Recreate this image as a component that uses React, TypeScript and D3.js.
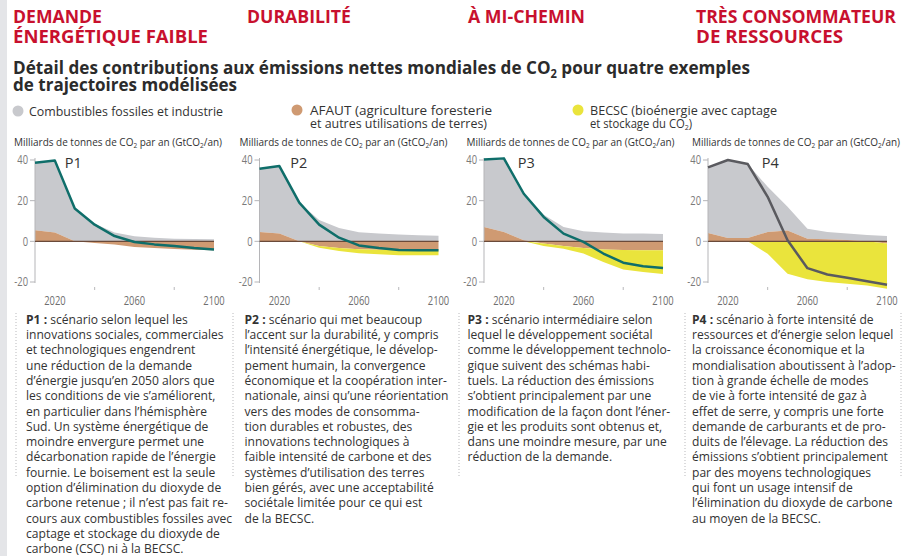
import React from 'react';
import * as d3 from 'd3';

// ---------- DATA ----------
const YEARS = [2010, 2020, 2030, 2040, 2050, 2060, 2070, 2080, 2090, 2100];

const P1_FOSSIL = [33.3, 35.4, 16.1, 8.7, 4.3, 2.5, 1.8, 1.3, 1.1, 1.0];
const P1_AFOLU = [5.4, 4.3, 0, -0.8, -1.6, -2.8, -3.3, -3.8, -4.1, -4.4];
const P1_BECCS = [0, 0, 0, 0, 0, 0, 0, 0, 0, 0];
const P1_NET = [38.7, 39.7, 16.1, 8.2, 2.6, -0.3, -1.5, -2.3, -3.3, -4.0];

const P2_FOSSIL = [31.1, 33.2, 19.0, 10.5, 6.5, 4.5, 3.8, 3.3, 3.0, 2.8];
const P2_AFOLU = [4.6, 3.8, 0, -2.3, -3.3, -3.9, -4.1, -4.2, -4.2, -4.2];
const P2_BECCS = [0, 0, 0, -0.8, -1.4, -2.0, -2.3, -2.6, -2.7, -2.7];
const P2_NET = [35.7, 37.0, 19.0, 8.2, 1.8, -2.0, -3.3, -4.3, -4.4, -4.4];

const P3_FOSSIL = [33.2, 36.2, 22.9, 13.1, 7.0, 4.9, 4.3, 3.9, 3.8, 3.6];
const P3_AFOLU = [7.0, 4.6, 0.5, -1.1, -2.3, -3.3, -4.0, -4.3, -4.4, -4.4];
const P3_BECCS = [0, 0, 0, -1.2, -1.3, -2.7, -6.2, -9.5, -10.7, -11.7];
const P3_NET = [40.2, 40.8, 23.4, 12.0, 3.8, -0.3, -6.0, -10.5, -12.3, -13.1];

const P4_FOSSIL = [32.3, 38.4, 36.4, 22.2, 11.7, 4.9, 3.6, 3.1, 3.1, 2.6];
const P4_AFOLU = [4.1, 1.6, 1.6, 4.6, 5.3, 1.3, 1.0, 0.7, 0.0, -1.1];
const P4_BECCS = [0, 0, 0, -6.1, -16.0, -18.7, -20.0, -20.8, -21.7, -22.2];
const P4_NET = [36.4, 40.0, 38.0, 21.9, 0.5, -13.2, -16.3, -17.9, -19.6, -21.4];

const Y_TICKS = [40, 20, 0, -20];
const X_LABELS = [2020, 2060, 2100];
const X_MINOR = [2040, 2080];

const HEADERS = [
  ['DEMANDE', 'ÉNERGÉTIQUE FAIBLE'],
  ['DURABILITÉ'],
  ['À MI-CHEMIN'],
  ['TRÈS CONSOMMATEUR', 'DE RESSOURCES'],
];
const SCENARIO_NAMES = ['P1', 'P2', 'P3', 'P4'];

const P1_TEXT = [
  'scénario selon lequel les',
  'innovations sociales, commerciales',
  'et technologiques engendrent',
  'une réduction de la demande',
  'd’énergie jusqu’en 2050 alors que',
  'les conditions de vie s’améliorent,',
  'en particulier dans l’hémisphère',
  'Sud. Un système énergétique de',
  'moindre envergure permet une',
  'décarbonation rapide de l’énergie',
  'fournie. Le boisement est la seule',
  'option d’élimination du dioxyde de',
  'carbone retenue ; il n’est pas fait re-',
  'cours aux combustibles fossiles avec',
  'captage et stockage du dioxyde de',
  'carbone (CSC) ni à la BECSC.',
];
const P2_TEXT = [
  'scénario qui met beaucoup',
  'l’accent sur la durabilité, y compris',
  'l’intensité énergétique, le dévelop-',
  'pement humain, la convergence',
  'économique et la coopération inter-',
  'nationale, ainsi qu’une réorientation',
  'vers des modes de consomma-',
  'tion durables et robustes, des',
  'innovations technologiques à',
  'faible intensité de carbone et des',
  'systèmes d’utilisation des terres',
  'bien gérés, avec une acceptabilité',
  'sociétale limitée pour ce qui est',
  'de la BECSC.',
];
const P3_TEXT = [
  'scénario intermédiaire selon',
  'lequel le développement sociétal',
  'comme le développement technolo-',
  'gique suivent des schémas habi-',
  'tuels. La réduction des émissions',
  's’obtient principalement par une',
  'modification de la façon dont l’éner-',
  'gie et les produits sont obtenus et,',
  'dans une moindre mesure, par une',
  'réduction de la demande.',
];
const P4_TEXT = [
  'scénario à forte intensité de',
  'ressources et d’énergie selon lequel',
  'la croissance économique et la',
  'mondialisation aboutissent à l’adop-',
  'tion à grande échelle de modes',
  'de vie à forte intensité de gaz à',
  'effet de serre, y compris une forte',
  'demande de carburants et de pro-',
  'duits de l’élevage. La réduction des',
  'émissions s’obtient principalement',
  'par des moyens technologiques',
  'qui font un usage intensif de',
  'l’élimination du dioxyde de carbone',
  'au moyen de la BECSC.',
];

const SCENARIOS = [
  { fossil: P1_FOSSIL, afolu: P1_AFOLU, beccs: P1_BECCS, net: P1_NET, text: P1_TEXT },
  { fossil: P2_FOSSIL, afolu: P2_AFOLU, beccs: P2_BECCS, net: P2_NET, text: P2_TEXT },
  { fossil: P3_FOSSIL, afolu: P3_AFOLU, beccs: P3_BECCS, net: P3_NET, text: P3_TEXT },
  { fossil: P4_FOSSIL, afolu: P4_AFOLU, beccs: P4_BECCS, net: P4_NET, text: P4_TEXT },
];

// ---------- LAYOUT / STYLE ----------
const W = 908;
const H = 556;
const FONT = '"Open Sans", "Noto Sans", sans-serif';
const RED = '#c8102e';
const DARK = '#333333';
const GREY_FILL = '#c8c9cd';
const ORANGE = '#cf9a72';
const YELLOW = '#eae43c';
const LINE_COLORS = ['#0f6e6a', '#0f6e6a', '#0f6e6a', '#5a5a5f'];
const PANEL_AXIS_X = [35, 259.5, 484, 708];
const PANEL_TITLE_X = [14, 239.5, 466.5, 692];
const HEADER_X = [13, 247, 468, 696];
const HEADER_LEN = [[89, 195], [104], [117], [200, 147]];
const LABEL_YEAR = [2025, 2025.5, 2027, 2037];
const TEXT_X = [26, 244.5, 467.5, 692];
const SEP_X = [16, 233, 459, 685, 901];
const PLOT_W = 179;
const Y_TOP = 160;
const Y_BOT = 282;
const TEXT_SX = 0.93;
const LEG_SX = 0.9;

function Panel({ i }: { i: number }) {
  const s = SCENARIOS[i];
  const ax = PANEL_AXIS_X[i];
  const x = d3.scaleLinear().domain([2010, 2100]).range([ax, ax + PLOT_W]);
  const y = d3.scaleLinear().domain([-20, 40]).range([Y_BOT, Y_TOP]);
  const rows = YEARS.map((yr, k) => {
    const a = s.afolu[k];
    const ap = Math.max(a, 0);
    const an = Math.min(a, 0);
    return { yr, a, ap, an, f: s.fossil[k], b: s.beccs[k], n: s.net[k] };
  });
  const grey = d3.area<any>().x(d => x(d.yr)).y0(d => y(d.ap)).y1(d => y(d.ap + d.f))(rows);
  const orange = d3.area<any>().x(d => x(d.yr)).y0(() => y(0)).y1(d => y(d.a))(rows);
  const yellow = d3.area<any>().x(d => x(d.yr)).y0(d => y(d.an)).y1(d => y(d.an + d.b))(rows);
  const line = d3.line<any>().x(d => x(d.yr)).y(d => y(d.n))(rows);

  return (
    <g>
      <text
        x={PANEL_TITLE_X[i]}
        y={145.5}
        fontFamily={FONT}
        fontSize={11.5}
        fill={DARK}
        textLength={208}
        lengthAdjust="spacingAndGlyphs"
      >
        Milliards de tonnes de CO<tspan fontSize={7.5} dy={2.5}>2</tspan>
        <tspan dy={-2.5}> par an (GtCO</tspan>
        <tspan fontSize={7.5} dy={2.5}>2</tspan>
        <tspan dy={-2.5}>/an)</tspan>
      </text>
      <path d={grey || ''} fill={GREY_FILL} />
      <path d={orange || ''} fill={ORANGE} />
      <path d={yellow || ''} fill={YELLOW} />
      <line x1={ax} x2={ax} y1={Y_TOP - 2} y2={Y_BOT + 1} stroke="#b5b5b8" strokeWidth={1} />
      {Y_TICKS.map(t => (
        <g key={t}>
          <line x1={ax - 5} x2={ax} y1={y(t)} y2={y(t)} stroke="#b5b5b8" strokeWidth={1} />
          <text
            transform={`translate(${ax - 7},${y(t) + 4.2}) scale(0.78,1)`}
            textAnchor="end"
            fontFamily={FONT}
            fontSize={12}
            fill="#7a7a7a"
          >
            {t}
          </text>
        </g>
      ))}
      <line x1={ax} x2={x(2100)} y1={y(0)} y2={y(0)} stroke="#6a4a3a" strokeWidth={1.2} />
      <path d={line || ''} fill="none" stroke={LINE_COLORS[i]} strokeWidth={2.5} strokeLinejoin="round" />
      {X_MINOR.map(t => (
        <line key={t} x1={x(t)} x2={x(t)} y1={287} y2={290} stroke="#b8b8bb" strokeWidth={1} />
      ))}
      {X_LABELS.map(t => (
        <text
          key={t}
          transform={`translate(${x(t)},${304.5}) scale(0.78,1)`}
          textAnchor="middle"
          fontFamily={FONT}
          fontSize={12}
          fill="#6e6e6e"
        >
          {t}
        </text>
      ))}
      <text x={x(LABEL_YEAR[i])} y={167.5} fontFamily={FONT} fontSize={14.5} fill={DARK}>
        {SCENARIO_NAMES[i]}
      </text>
      <g transform={`translate(${TEXT_X[i]},${323.8}) scale(${TEXT_SX},1)`}>
        {s.text.map((ln, k) => (
          <text key={k} x={0} y={k * 15.3} fontFamily={FONT} fontSize={13} fill={DARK}>
            {k === 0 ? (
              <>
                <tspan fontWeight={700}>{SCENARIO_NAMES[i]} :</tspan> {ln}
              </>
            ) : (
              ln
            )}
          </text>
        ))}
      </g>
    </g>
  );
}

export default function App() {
  return (
    <svg
      width={W}
      height={H}
      viewBox={`0 0 ${W} ${H}`}
      style={{ position: 'absolute', left: 0, top: 0, background: '#ffffff' }}
    >
      <rect x={0} y={0} width={W} height={H} fill="#ffffff" />
      <rect x={0} y={0} width={7} height={H} fill="#e4e5e8" />
      {HEADERS.map((lines, i) =>
        lines.map((t, k) => (
          <text
            key={`${i}-${k}`}
            x={HEADER_X[i]}
            y={22.7 + k * 20.6}
            fontFamily={FONT}
            fontWeight={700}
            fontSize={17.5}
            fill={RED}
            textLength={HEADER_LEN[i][k]}
            lengthAdjust="spacingAndGlyphs"
          >
            {t}
          </text>
        ))
      )}
      <text
        x={13}
        y={74}
        fontFamily={FONT}
        fontWeight={700}
        fontSize={18.5}
        fill="#2b2b2b"
        textLength={737}
        lengthAdjust="spacingAndGlyphs"
      >
        Détail des contributions aux émissions nettes mondiales de CO<tspan fontSize={12} dy={4}>2</tspan>
        <tspan dy={-4}> pour quatre exemples</tspan>
      </text>
      <text
        x={13}
        y={91}
        fontFamily={FONT}
        fontWeight={700}
        fontSize={18.5}
        fill="#2b2b2b"
        textLength={224}
        lengthAdjust="spacingAndGlyphs"
      >
        de trajectoires modélisées
      </text>

      {/* legend */}
      <circle cx={18} cy={111} r={5.5} fill={GREY_FILL} />
      <text x={29} y={115.5} fontFamily={FONT} fontSize={13} fill={DARK} textLength={194} lengthAdjust="spacingAndGlyphs">
        Combustibles fossiles et industrie
      </text>
      <circle cx={297} cy={110} r={5.5} fill={ORANGE} />
      <text x={310} y={114.5} fontFamily={FONT} fontSize={12.5} fill={DARK} textLength={182} lengthAdjust="spacingAndGlyphs">
        AFAUT (agriculture foresterie
      </text>
      <text x={310} y={127.5} fontFamily={FONT} fontSize={12.5} fill={DARK} textLength={177} lengthAdjust="spacingAndGlyphs">
        et autres utilisations de terres)
      </text>
      <circle cx={578} cy={110} r={5.5} fill={YELLOW} />
      <text x={590} y={114.5} fontFamily={FONT} fontSize={12.5} fill={DARK} textLength={187} lengthAdjust="spacingAndGlyphs">
        BECSC (bioénergie avec captage
      </text>
      <text
        transform={`translate(590,127.5) scale(${LEG_SX},1)`}
        fontFamily={FONT}
        fontSize={12.5}
        fill={DARK}
      >
        et stockage du CO<tspan fontSize={8} dy={2.5}>2</tspan>
        <tspan dy={-2.5}>)</tspan>
      </text>

      {SCENARIOS.map((_, i) => (
        <Panel key={i} i={i} />
      ))}

      {SEP_X.map((sx, k) => (
        <line key={k} x1={sx} x2={sx} y1={313} y2={478} stroke="#b9b9bc" strokeWidth={1} strokeDasharray="1 2" />
      ))}
    </svg>
  );
}
